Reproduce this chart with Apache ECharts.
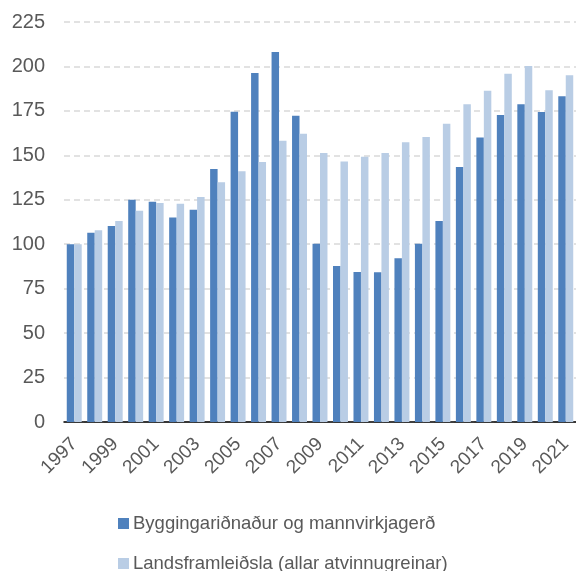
<!DOCTYPE html>
<html>
<head>
<meta charset="utf-8">
<script src="https://cdn.jsdelivr.net/npm/echarts@6/dist/echarts.min.js"></script>
<style>
  html, body { margin: 0; padding: 0; background: #fff; }
  #chart { width: 576px; height: 571px; }
</style>
</head>
<body>
<div id="chart"></div>
<script>
  // ár
  const years = ['1997', '1998', '1999', '2000', '2001', '2002', '2003', '2004', '2005', '2006',
    '2007', '2008', '2009', '2010', '2011', '2012', '2013', '2014', '2015', '2016',
    '2017', '2018', '2019', '2020', '2021']
  // vísitala, 1997 = 100
  const bygging = [100, 106.5, 110.2, 125, 123.9, 115.1, 119.4, 142.3, 174.5, 196.3,
    208.1, 172.3, 100.3, 87.7, 84.4, 84.2, 92.1, 100.3, 113, 143.4,
    160.1, 172.7, 178.7, 174.4, 183.2]
  const landsframl = [100, 107.8, 113, 118.8, 123.2, 122.8, 126.5, 134.8, 141, 146.2,
    158.2, 162.2, 151.3, 146.6, 149.2, 151.3, 157.3, 160.3, 167.8, 178.7,
    186.3, 195.9, 200.2, 186.6, 195]
  const names = ['Byggingariðnaður og mannvirkjagerð', 'Landsframleiðsla (allar atvinnugreinar)']

  const textColor = '#595959'
  const legendBase = {
    orient: 'vertical',
    left: 118,
    padding: 0,
    icon: 'rect',
    itemWidth: 11,
    itemHeight: 11,
    textStyle: { fontSize: 18.5, color: textColor, padding: [0, 0, 0, -1] }
  }
  let myChart = echarts.init(document.getElementById('chart'))
  myChart.setOption({
    animation: false,
    textStyle: { fontFamily: 'Liberation Sans, Arial, sans-serif' },
    grid: { left: 64, right: -2, top: 22, bottom: 149 },
    legend: [
      Object.assign({}, legendBase, { top: 514, data: [names[0]] }),
      Object.assign({}, legendBase, { top: 554, data: [names[1]] })
    ],
    xAxis: {
      type: 'category',
      data: years,
      axisLine: { lineStyle: { color: '#000', width: 1.5 } },
      axisTick: { show: false },
      axisLabel: { rotate: 45, interval: 1, fontSize: 19, color: textColor, margin: 19 }
    },
    yAxis: {
      type: 'value',
      min: 0,
      max: 225,
      interval: 25,
      axisLine: { show: false },
      axisTick: { show: false },
      axisLabel: { fontSize: 20, color: textColor, margin: 19 },
      splitLine: { lineStyle: { color: '#d9d9d9', type: [6, 4], width: 1.5 } }
    },
    series: [
      {
        name: names[0],
        type: 'bar',
        data: bygging,
        barGap: '0%',
        barCategoryGap: '27%',
        itemStyle: { color: '#4f81bd' }
      },
      {
        name: names[1],
        type: 'bar',
        data: landsframl,
        itemStyle: { color: '#b9cde5' }
      }
    ]
  })
</script>
</body>
</html>
